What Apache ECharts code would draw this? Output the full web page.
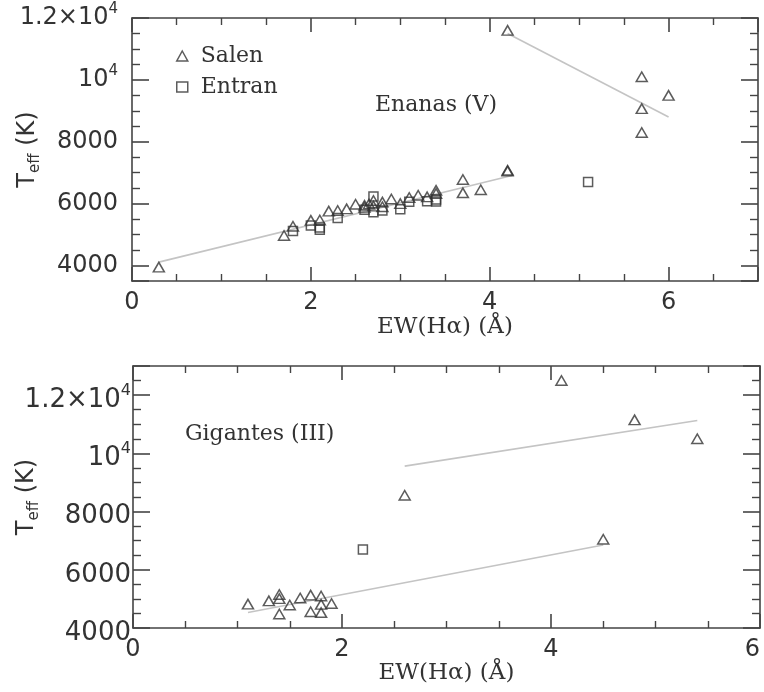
<!DOCTYPE html>
<html><head><meta charset="utf-8">
<script src="https://cdn.jsdelivr.net/npm/echarts@6/dist/echarts.min.js"></script>
<style>html,body{margin:0;padding:0;background:#fff}#c{width:764px;height:692px}</style>
</head><body><div id="c"></div>
<script>
// ---- Data: top panel (Enanas V) ----
const dwarfSalen = [
  [0.3, 3950], [1.7, 4970], [1.8, 5270], [2.0, 5460], [2.1, 5470], [2.2, 5760],
  [2.3, 5780], [2.4, 5830], [2.5, 5980], [2.6, 5950], [2.6, 5880], [2.65, 5990],
  [2.7, 6100], [2.7, 5920], [2.8, 6050], [2.8, 5900], [2.9, 6150], [3.0, 6000],
  [3.1, 6200], [3.2, 6270], [3.3, 6220], [3.4, 6430], [3.4, 6330],
  [3.7, 6780], [3.7, 6350], [3.9, 6450], [4.2, 7050], [4.2, 7080],
  [4.2, 11600], [5.7, 10100], [6.0, 9500], [5.7, 9070], [5.7, 8300]
];
const dwarfEntran = [
  [1.8, 5120], [2.0, 5290], [2.1, 5160], [2.1, 5230], [2.3, 5540], [2.6, 5800],
  [2.7, 6230], [2.7, 5720], [2.8, 5780], [3.0, 5820], [3.1, 6060], [3.3, 6080],
  [3.4, 6070], [3.4, 6130], [5.1, 6700]
];
const dwarfFitLow = [[0.3, 4110], [4.25, 6910]];
const dwarfFitHigh = [[4.2, 11500], [6.0, 8800]];

// ---- Data: bottom panel (Gigantes III) ----
const giantSalen = [
  [1.1, 4820], [1.3, 4930], [1.4, 5150], [1.4, 5010], [1.4, 4480], [1.5, 4790],
  [1.6, 5030], [1.7, 5130], [1.7, 4560], [1.8, 5100], [1.8, 4810], [1.8, 4530],
  [1.9, 4840], [2.6, 8560], [4.1, 12500], [4.8, 11150], [5.4, 10500], [4.5, 7050]
];
const giantEntran = [[2.2, 6700]];
const giantFitLow = [[1.1, 4530], [4.5, 6850]];
const giantFitHigh = [[2.6, 9560], [5.4, 11130]];

// ---- Axis ranges / ticks ----
const topX = { min: 0, max: 7, interval: 2 };
const topY = { min: 3500, max: 12000, step: 2000 };
const botX = { min: 0, max: 6, interval: 2 };
const botY = { min: 4000, max: 13000, interval: 2000 };
const xTitle = 'EW(H\u03b1) (\u00c5)';
const yTitle = 'T{sub|eff} (K)';

const AX = '#444', TXT = '#333';
const SERIF = '"DejaVu Serif", serif';
const SANS = '"DejaVu Sans", sans-serif';

function yFmt(v) {
  if (v === 12000) return '1.2\u00d710{sup|4}';
  if (v === 10000) return '10{sup|4}';
  return String(v);
}

function xAx(grid, r, pos, labels, labelMargin, nameGap) {
  const o = {
    type: 'value', gridIndex: grid, position: pos, min: r.min, max: r.max, interval: r.interval,
    axisLine: { show: true, onZero: false, lineStyle: { color: AX, width: 1.6 } },
    axisTick: { show: true, inside: true, length: 14, lineStyle: { color: AX, width: 1.6 } },
    minorTick: { show: true, splitNumber: 4, length: 7, lineStyle: { color: AX, width: 1.4 } },
    splitLine: { show: false },
    axisLabel: { show: labels, margin: labelMargin, fontFamily: SANS, fontSize: 24, color: TXT,
      showMaxLabel: r.max % r.interval === 0, alignMaxLabel: 'right' }
  };
  if (labels) {
    o.name = xTitle; o.nameLocation = 'middle'; o.nameGap = nameGap; o.nameMoveOverlap = false;
    o.nameTextStyle = { fontFamily: SERIF, fontSize: 23, color: TXT };
  }
  return o;
}

function yAx(grid, r, pos, labels, fontSize, labelMargin, nameGap, padTop) {
  const o = {
    type: 'value', gridIndex: grid, position: pos, min: r.min, max: r.max,
    axisLine: { show: true, onZero: false, lineStyle: { color: AX, width: 1.6 } },
    axisTick: { show: true, inside: true, length: 17, lineStyle: { color: AX, width: 1.6 } },
    minorTick: { show: true, splitNumber: 4, length: 8, lineStyle: { color: AX, width: 1.4 } },
    splitLine: { show: false },
    axisLabel: {
      show: labels, margin: labelMargin, fontFamily: SANS, fontSize: fontSize, color: TXT,
      lineHeight: fontSize + 8, formatter: yFmt, padding: [padTop || 0, 0, 0, 0],
      showMinLabel: r.min % 2000 === 0, showMaxLabel: r.max % 2000 === 0,
      rich: { sup: { fontSize: Math.round(fontSize * 0.62), verticalAlign: 'top', lineHeight: Math.round(fontSize * 0.62), fontFamily: SANS, color: TXT } }
    }
  };
  if (r.interval) o.interval = r.interval; else { o.minInterval = r.step; o.maxInterval = r.step; }
  if (labels) {
    o.name = yTitle; o.nameLocation = 'middle'; o.nameGap = nameGap; o.nameMoveOverlap = false;
    o.nameTextStyle = { fontFamily: SANS, fontSize: 24, color: TXT, lineHeight: 30,
      rich: { sub: { fontSize: 15, verticalAlign: 'bottom', lineHeight: 15, fontFamily: SANS, color: TXT } } };
  }
  return o;
}

const tri = { symbol: 'triangle', symbolSize: [11, 9.5], itemStyle: { color: 'rgba(0,0,0,0)', borderColor: '#333', borderWidth: 1.5 } };
const sq = { symbol: 'rect', symbolSize: [9, 9], itemStyle: { color: 'rgba(0,0,0,0)', borderColor: '#333', borderWidth: 1.5 } };
const fitStyle = { type: 'line', showSymbol: false, symbol: 'none', silent: true, z: 1, lineStyle: { color: '#c4c4c4', width: 1.6 } };

const option = {
  animation: false,
  backgroundColor: '#fff',
  grid: [
    { left: 132, top: 18, width: 626, height: 263, containLabel: false, outerBoundsMode: 'none' },
    { left: 133, top: 366, width: 627, height: 262, containLabel: false, outerBoundsMode: 'none' }
  ],
  xAxis: [
    xAx(0, topX, 'bottom', true, 10, 35),
    xAx(0, topX, 'top', false, 8, 0),
    xAx(1, botX, 'bottom', true, 10, 34),
    xAx(1, botX, 'top', false, 8, 0)
  ],
  yAxis: [
    yAx(0, topY, 'left', true, 24, 14, 89, 0),
    yAx(0, topY, 'right', false, 24, 8, 0, 0),
    yAx(1, botY, 'left', true, 26, 2, 91, 10),
    yAx(1, botY, 'right', false, 26, 8, 0, 0)
  ],
  legend: {
    left: 171, top: 40, orient: 'vertical', itemWidth: 11, itemHeight: 10, itemGap: 9,
    selectedMode: false,
    textStyle: { fontFamily: SERIF, fontSize: 22, color: TXT, lineHeight: 22, padding: [0, 0, 0, 8] },
    data: [
      { name: 'Salen', icon: 'triangle', itemStyle: { color: 'rgba(0,0,0,0)', borderColor: '#333', borderWidth: 1.5 } },
      { name: 'Entran', icon: 'rect', itemStyle: { color: 'rgba(0,0,0,0)', borderColor: '#333', borderWidth: 1.5 } }
    ]
  },
  graphic: [
    { type: 'text', left: 375, top: 94, style: { text: 'Enanas (V)', fontFamily: SERIF, fontSize: 22, fill: TXT } },
    { type: 'text', left: 185, top: 423, style: { text: 'Gigantes (III)', fontFamily: SERIF, fontSize: 22, fill: TXT } }
  ],
  series: [
    Object.assign({}, fitStyle, { name: 'fit1', xAxisIndex: 0, yAxisIndex: 0, data: dwarfFitLow }),
    Object.assign({}, fitStyle, { name: 'fit2', xAxisIndex: 0, yAxisIndex: 0, data: dwarfFitHigh }),
    Object.assign({}, fitStyle, { name: 'fit3', xAxisIndex: 2, yAxisIndex: 2, data: giantFitLow }),
    Object.assign({}, fitStyle, { name: 'fit4', xAxisIndex: 2, yAxisIndex: 2, data: giantFitHigh }),
    Object.assign({ type: 'scatter', name: 'Salen', xAxisIndex: 0, yAxisIndex: 0, data: dwarfSalen, z: 3 }, tri),
    Object.assign({ type: 'scatter', name: 'Entran', xAxisIndex: 0, yAxisIndex: 0, data: dwarfEntran, z: 3 }, sq),
    Object.assign({ type: 'scatter', name: 'Salen', xAxisIndex: 2, yAxisIndex: 2, data: giantSalen, z: 3 }, tri),
    Object.assign({ type: 'scatter', name: 'Entran', xAxisIndex: 2, yAxisIndex: 2, data: giantEntran, z: 3 }, sq)
  ]
};
const chart = echarts.init(document.getElementById('c'), null, { renderer: 'canvas' });
chart.setOption(option);
</script>
</body></html>
